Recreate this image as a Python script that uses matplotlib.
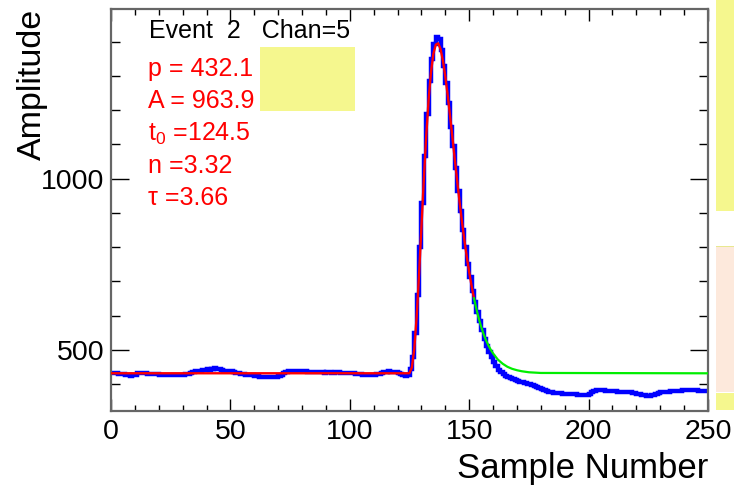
import matplotlib
matplotlib.use("Agg")
import numpy as np
from matplotlib import pyplot as plt
from matplotlib.patches import Rectangle
from matplotlib.ticker import MultipleLocator

plt.rcParams['font.family'] = ['Liberation Sans', 'DejaVu Sans']
plt.rcParams['mathtext.fontset'] = 'custom'
plt.rcParams['mathtext.rm'] = 'Liberation Sans'

# histogram: one bin per sample, 0..250
edges = np.arange(0, 251)
counts = [
    432, 433, 432, 431, 431, 430, 427, 426, 425, 426,
    428, 433, 434, 434, 432, 430, 430, 429, 430, 429,
    428, 427, 427, 426, 427, 427, 428, 427, 426, 427,
    428, 429, 431, 433, 435, 438, 439, 440, 441, 443,
    444, 443, 445, 447, 446, 444, 441, 440, 439, 439,
    438, 437, 434, 432, 430, 429, 428, 428, 427, 426,
    424, 423, 422, 421, 421, 420, 420, 421, 421, 422,
    424, 428, 434, 437, 438, 439, 439, 440, 439, 439,
    438, 438, 437, 436, 436, 435, 435, 436, 435, 434,
    435, 435, 434, 434, 435, 435, 434, 434, 433, 433,
    432, 432, 431, 430, 429, 428, 428, 427, 427, 428,
    428, 429, 430, 432, 435, 437, 438, 437, 437, 436,
    432, 429, 427, 424, 428, 445, 480, 550, 660, 800,
    930, 1065, 1190, 1285, 1350, 1392, 1412, 1408, 1375, 1330,
    1280, 1220, 1152, 1095, 1030, 965, 905, 850, 800, 752,
    712, 672, 640, 612, 585, 558, 533, 512, 495, 480,
    466, 453, 443, 435, 429, 424, 420, 417, 414, 412,
    410, 408, 406, 404, 402, 400, 397, 394, 391, 388,
    385, 382, 379, 377, 376, 375, 375, 374, 374, 373,
    373, 372, 372, 371, 371, 370, 369, 368, 368, 370,
    373, 377, 380, 382, 383, 383, 382, 381, 380, 380,
    379, 379, 378, 378, 377, 377, 376, 376, 375, 374,
    373, 371, 369, 368, 367, 367, 368, 370, 373, 375,
    376, 377, 377, 378, 379, 380, 380, 381, 381, 382,
    382, 383, 383, 383, 382, 382, 381, 381, 380, 380,
]

# fit curve (red) inside the fit range
fit_t = [0, 124.5, 125, 126, 127, 128, 129, 130, 131, 132, 133, 134, 135, 136,
         137, 138, 139, 140, 141, 142, 143, 144, 145, 146, 147, 148, 149, 150,
         151, 152]
fit_y = [432.1, 432.1, 432.7, 449, 503, 597, 720, 859, 998, 1124, 1230, 1311,
         1364, 1391, 1395, 1378, 1344, 1298, 1243, 1182, 1119, 1054, 991, 930,
         873, 820, 771, 727, 687, 651]

# extension of the fit (green)
ext_t = [152, 153, 154, 155, 156, 157, 158, 159, 160, 162, 164, 166, 168, 170,
         172, 175, 180, 250]
ext_y = [651, 620, 592, 568, 547, 529, 514, 501, 490, 472, 460, 451, 445, 441,
         438, 435, 433, 432]

labels = ["p = 432.1", "A = 963.9", r"$\mathregular{t_0}$ =124.5", "n =3.32",
          "\u03c4 =3.66"]

W, H = 734, 487
fig = plt.figure(figsize=(W / 100, H / 100), dpi=100)
ax = fig.add_axes([111 / W, 1 - 411 / H, 597 / W, 402 / H])

ax.stairs(counts, edges, baseline=None, color='#0000ff', linewidth=3.2, zorder=2)
ax.plot(fit_t, fit_y, color='#ff0000', linewidth=1.7, zorder=3)
ax.plot(ext_t, ext_y, color='#00ee00', linewidth=1.6, zorder=4)

ax.set_xlim(0, 250)
ax.set_ylim(322, 1495)

ax.xaxis.set_major_locator(MultipleLocator(50))
ax.xaxis.set_minor_locator(MultipleLocator(10))
ax.yaxis.set_major_locator(MultipleLocator(500))
ax.yaxis.set_minor_locator(MultipleLocator(100))
ax.tick_params(axis='both', which='both', direction='in', top=True, right=True,
               labelsize=20.5, color='black')
ax.tick_params(axis='x', which='major', length=8.6, width=1, pad=6)
ax.tick_params(axis='x', which='minor', length=4.3, width=1)
ax.tick_params(axis='y', which='major', length=13, width=1, pad=5)
ax.tick_params(axis='y', which='minor', length=6.5, width=1)
for s in ax.spines.values():
    s.set_color('#666666')
    s.set_linewidth(1.6)

ax.set_xlabel("Sample Number", fontsize=25, loc='right')
ax.xaxis.set_label_coords(1.0, -0.103)
ax.set_ylabel("Amplitude", fontsize=24.5, loc='top')
ax.yaxis.set_label_coords(-0.105, 1.0)

fig.text(149 / W, 1 - 38 / H, "Event  2   Chan=5", fontsize=18, color='black',
         va='baseline')
for i, s in enumerate(labels):
    fig.text(148 / W, 1 - (76 + 32.2 * i) / H, s, fontsize=18, color='#ff0000',
             va='baseline')

# overlay boxes
fig.patches.append(Rectangle((260 / W, 1 - 111 / H), 95 / W, 64 / H,
                             transform=fig.transFigure, facecolor='#f5f78e',
                             edgecolor='none', zorder=10))
fig.patches.append(Rectangle((716 / W, 1 - 211 / H), 18 / W, 211 / H,
                             transform=fig.transFigure, facecolor='#f5f78e',
                             edgecolor='none'))
fig.patches.append(Rectangle((716 / W, 1 - 392 / H), 18 / W, 146 / H,
                             transform=fig.transFigure, facecolor='#fde9dc',
                             edgecolor='none'))
fig.patches.append(Rectangle((716 / W, 1 - 247 / H), 18 / W, 1.2 / H,
                             transform=fig.transFigure, facecolor='#e8e890',
                             edgecolor='none'))
fig.patches.append(Rectangle((716 / W, 1 - 410 / H), 18 / W, 17 / H,
                             transform=fig.transFigure, facecolor='#f5f78e',
                             edgecolor='none'))

fig.savefig("out.png", dpi=100)
